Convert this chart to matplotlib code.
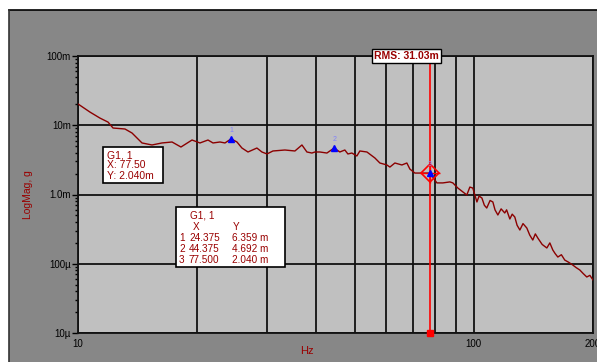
import matplotlib.pyplot as plt
import matplotlib.ticker as mticker
from matplotlib.patches import Rectangle

# spectrum trace, frequency in Hz and magnitude in milli-g
freq = [10.0, 10.72, 11.36, 11.91, 12.26, 13.14, 13.69, 14.51, 15.38, 16.30,
        17.28, 18.20, 19.41, 20.33, 21.30, 21.93, 22.84, 23.51, 24.375, 25.21,
        25.95, 26.88, 28.31, 29.15, 30.02, 31.08, 33.32, 35.32, 36.79, 37.87,
        38.99, 39.68, 40.84, 42.54, 44.375, 45.86, 47.22, 48.06, 49.19, 50.64,
        51.53, 53.69, 56.23, 57.89, 60.30, 61.37, 63.17, 65.80, 67.73, 68.93,
        70.96, 73.05, 77.5, 80.65, 83.51, 87.00, 88.51, 91.12, 96.0, 97.7,
        99.4, 101.8, 103.1, 104.8, 106.3, 107.8, 109.9, 111.7, 113.1, 115.0,
        117.2, 119.7, 121.0, 123.3, 125.0, 126.9, 128.6, 130.7, 133.1, 136.1,
        138.4, 140.9, 143.0, 145.1, 148.8, 152.9, 155.6, 158.3, 160.5, 163.0,
        166.4, 169.7, 173.6, 177.8, 181.3, 185.2, 189.0, 192.9, 196.4, 200.0]
mag_m = [20.3, 15.5, 12.7, 11.1, 9.12, 8.83, 7.73, 5.55, 5.19, 5.55,
         5.73, 4.85, 6.12, 5.55, 6.12, 5.55, 5.73, 5.55, 6.359, 5.73,
         4.69, 4.11, 4.69, 4.11, 3.85, 4.25, 4.39, 4.25, 5.19, 4.11,
         3.97, 4.11, 4.11, 3.97, 4.692, 4.11, 4.39, 3.85, 3.97, 3.60,
         4.25, 4.11, 3.37, 2.85, 2.67, 2.49, 2.85, 2.67, 2.85, 2.33,
         2.04, 2.04, 2.040, 1.47, 1.47, 1.52, 1.47, 1.24, 0.984, 1.28,
         1.24, 0.780, 0.95, 0.890, 0.70, 0.638, 0.82, 0.780, 0.60, 0.506,
         0.62, 0.541, 0.60, 0.443, 0.52, 0.473, 0.36, 0.307, 0.38, 0.328,
         0.26, 0.220, 0.27, 0.235, 0.19, 0.169, 0.20, 0.158, 0.14, 0.125,
         0.135, 0.113, 0.105, 0.0959, 0.088, 0.0813, 0.072, 0.0644, 0.068, 0.0583]

# cursor markers
mk_id = ["1", "2", "3"]
mk_x = [24.375, 44.375, 77.500]
mk_y_m = [6.359, 4.692, 2.040]
rms_label = "RMS: 31.03m"

ytick_vals = [1e-5, 1e-4, 1e-3, 1e-2, 1e-1]
ytick_lbls = ["10\u00b5", "100\u00b5", "1.0m", "10m", "100m"]
xtick_vals = [10, 100, 200]
xgrid_vals = [20, 30, 40, 50, 60, 70, 80, 90]

DARKRED = "#8b0000"
TXT = "#990000"
plt.rcParams['font.family'] = ['Liberation Sans', 'DejaVu Sans']

fig = plt.figure(figsize=(5.97, 3.62), dpi=100, facecolor="white")
W, H = 597.0, 362.0
AX_L, AX_T, AX_W, AX_H = 78, 56, 515, 277


def px(x, y):
    # pixel position (from top-left) -> axes fraction
    return (x - AX_L) / AX_W, (AX_T + AX_H - y) / AX_H


# grey panel behind the plot
fig.patches.append(Rectangle((9 / W, 0), 1, (H - 10) / H, transform=fig.transFigure,
                             facecolor="#878787", edgecolor="none", zorder=-2))
fig.add_artist(plt.Line2D([9 / W, 1], [(H - 10) / H] * 2, color="black", lw=1.2, zorder=-1))
fig.add_artist(plt.Line2D([9 / W] * 2, [0, (H - 10) / H], color="#333333", lw=1.2, zorder=-1))

ax = fig.add_axes([AX_L / W, (H - AX_T - AX_H) / H, AX_W / W, AX_H / H])
ax.set_facecolor("#c0c0c0")
ax.set_xscale("log")
ax.set_yscale("log")
ax.set_xlim(10, 200)
ax.set_ylim(1e-5, 1e-1)

ax.set_xticks(xtick_vals, [str(v) for v in xtick_vals])
ax.set_xticks(xgrid_vals, minor=True)
ax.xaxis.set_minor_formatter(mticker.NullFormatter())
ax.tick_params(axis="x", which="both", length=0, labelsize=7, pad=4)
ax.set_yticks(ytick_vals, ytick_lbls)
ax.yaxis.set_minor_locator(mticker.LogLocator(base=10, subs=range(2, 10)))
ax.yaxis.set_minor_formatter(mticker.NullFormatter())
ax.tick_params(axis="y", which="major", length=4, width=1, labelsize=7, pad=1)
ax.tick_params(axis="y", which="minor", length=2, width=1)

ax.grid(True, axis="x", which="both", color="#111111", lw=1.3)
ax.grid(True, axis="y", which="major", color="#111111", lw=1.3)
ax.grid(False, axis="y", which="minor")
for s in ax.spines.values():
    s.set_color("#111111")
    s.set_linewidth(1.3)

ax.set_xlabel("Hz", color=TXT, fontsize=8)
ax.xaxis.set_label_coords(*px(307, 346))
ax.set_ylabel("LogMag, g", color=TXT, fontsize=7.5)
ax.yaxis.set_label_coords(px(33, 0)[0], 0.5)

mag = [v * 1e-3 for v in mag_m]
mk_y = [v * 1e-3 for v in mk_y_m]
ax.plot(freq, mag, color=DARKRED, lw=1.0, zorder=3)

# cursor line with RMS readout
ax.axvline(mk_x[2], color="red", lw=1.2, zorder=4)
ax.plot([mk_x[2]], [1e-5], marker="s", color="red", ms=5, clip_on=False, zorder=6)
ax.annotate(rms_label, (mk_x[2], 1e-1), xytext=(9, 0), textcoords="offset pixels",
            ha="right", va="center", fontsize=7.5, color=TXT, fontweight="bold",
            zorder=7, annotation_clip=False,
            bbox=dict(boxstyle="square,pad=0.2", fc="white", ec="black", lw=1.0))

# markers
for i in range(3):
    ax.plot(mk_x[i], mk_y[i], marker="^", color="blue", ms=4, zorder=6)
    ax.annotate(mk_id[i], (mk_x[i], mk_y[i]), xytext=(0, 5), textcoords="offset points",
                ha="center", fontsize=5, color="#8080ff", zorder=6)
ax.plot(mk_x[2], mk_y[2], marker="D", mfc="none", mec="red", ms=9, mew=1.2, zorder=5)
ax.plot(mk_x[2], mk_y[2], marker="+", color="red", ms=14, mew=1.0, zorder=5)


def box(x0, y0, x1, y1):
    (a, b), (c, d) = px(x0, y1), px(x1, y0)
    ax.add_patch(Rectangle((a, b), c - a, d - b, transform=ax.transAxes,
                           fc="white", ec="black", lw=1.2, zorder=7))


def label(x, y, s, size=7.5):
    ax.text(*px(x, y), s, transform=ax.transAxes, ha="left", va="center",
            fontsize=size, color=TXT, zorder=8)


# single-cursor readout
box(103, 147, 163, 183)
for j, s in enumerate(["G1, 1", "X: %.2f" % mk_x[2], "Y: %.3fm" % mk_y_m[2]]):
    label(107, 155 + j * 10.5, s)

# cursor table
box(176, 207, 285, 267)
label(190, 215, "G1, 1", 7.2)
label(193, 227, "X", 7.2)
label(233, 227, "Y", 7.2)
for i in range(3):
    yy = 238 + i * 11
    label(179, yy, mk_id[i], 7.2)
    label(189, yy, "%.3f" % mk_x[i], 7.2)
    label(232, yy, "%.3f m" % mk_y_m[i], 7.2)

fig.savefig("out.png", dpi=100, facecolor="white")
